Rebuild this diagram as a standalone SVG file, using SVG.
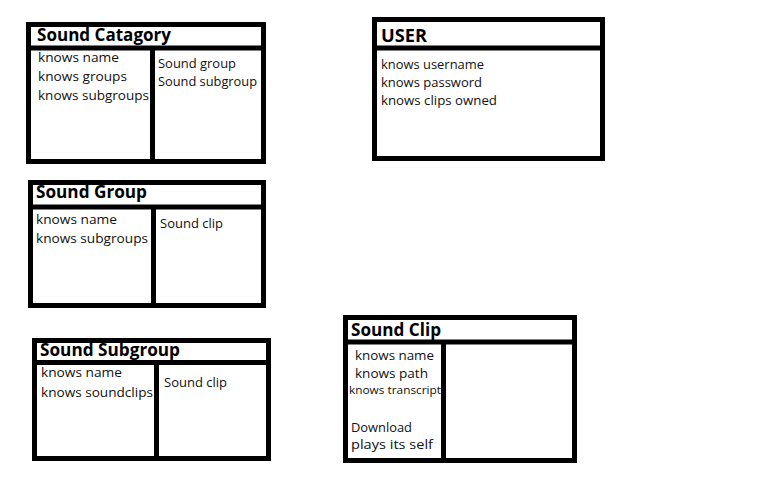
<svg xmlns="http://www.w3.org/2000/svg" width="768" height="480" viewBox="0 0 768 480">
<style>
.bg{fill:#fff}
.box{fill:#fff;stroke:#000;stroke-width:5}
.ln{stroke:#000;stroke-width:5;fill:none}
.t{font-family:"Open Sans","Liberation Sans",sans-serif;font-weight:bold;font-size:17px;fill:#000}
.a{font-family:"Open Sans","Liberation Sans",sans-serif;font-size:13px;fill:#111}
.s{font-size:10.5px}
</style>
<rect class="bg" x="0" y="0" width="768" height="480"/>
<g id="sound-catagory">
<rect class="box" x="28.5" y="24.5" width="235" height="137"/>
<line class="ln" x1="28.5" y1="48" x2="263.5" y2="48"/>
<line class="ln" x1="152.5" y1="48" x2="152.5" y2="161.5"/>
<text class="t" x="37" y="41" textLength="134" lengthAdjust="spacingAndGlyphs">Sound Catagory</text>
<text class="a" x="38" y="62" textLength="81" lengthAdjust="spacingAndGlyphs">knows name</text>
<text class="a" x="38" y="81" textLength="89" lengthAdjust="spacingAndGlyphs">knows groups</text>
<text class="a" x="38" y="100" textLength="111" lengthAdjust="spacingAndGlyphs">knows subgroups</text>
<text class="a" x="158" y="68" textLength="78" lengthAdjust="spacingAndGlyphs">Sound group</text>
<text class="a" x="158" y="86" textLength="99" lengthAdjust="spacingAndGlyphs">Sound subgroup</text>
</g>
<g id="user">
<rect class="box" x="374.5" y="19.5" width="228" height="139"/>
<line class="ln" x1="374.5" y1="48" x2="602.5" y2="48"/>
<text class="t" x="381" y="42" textLength="46" lengthAdjust="spacingAndGlyphs">USER</text>
<text class="a" x="381" y="69" textLength="103" lengthAdjust="spacingAndGlyphs">knows username</text>
<text class="a" x="381" y="87" textLength="101" lengthAdjust="spacingAndGlyphs">knows password</text>
<text class="a" x="381" y="105" textLength="116" lengthAdjust="spacingAndGlyphs">knows clips owned</text>
</g>
<g id="sound-group">
<rect class="box" x="30.5" y="182.5" width="233" height="123"/>
<line class="ln" x1="30.5" y1="207" x2="263.5" y2="207"/>
<line class="ln" x1="153.5" y1="207" x2="153.5" y2="305.5"/>
<text class="t" x="36" y="198" textLength="111" lengthAdjust="spacingAndGlyphs">Sound Group</text>
<text class="a" x="36" y="224" textLength="81" lengthAdjust="spacingAndGlyphs">knows name</text>
<text class="a" x="36" y="243" textLength="112" lengthAdjust="spacingAndGlyphs">knows subgroups</text>
<text class="a" x="160" y="228" textLength="63" lengthAdjust="spacingAndGlyphs">Sound clip</text>
</g>
<g id="sound-subgroup">
<rect class="box" x="34.5" y="340.5" width="234" height="118"/>
<line class="ln" x1="34.5" y1="362.5" x2="268.5" y2="362.5"/>
<line class="ln" x1="156.5" y1="362.5" x2="156.5" y2="458.5"/>
<text class="t" x="40" y="356" textLength="140" lengthAdjust="spacingAndGlyphs">Sound Subgroup</text>
<text class="a" x="41" y="377" textLength="81" lengthAdjust="spacingAndGlyphs">knows name</text>
<text class="a" x="41" y="397" textLength="112" lengthAdjust="spacingAndGlyphs">knows soundclips</text>
<text class="a" x="164" y="387" textLength="63" lengthAdjust="spacingAndGlyphs">Sound clip</text>
</g>
<g id="sound-clip">
<rect class="box" x="345.5" y="317.5" width="229" height="143"/>
<line class="ln" x1="345.5" y1="342" x2="574.5" y2="342"/>
<line class="ln" x1="443.5" y1="342" x2="443.5" y2="460.5"/>
<text class="t" x="351" y="336" textLength="90" lengthAdjust="spacingAndGlyphs">Sound Clip</text>
<text class="a" x="355" y="360" textLength="79" lengthAdjust="spacingAndGlyphs">knows name</text>
<text class="a" x="355" y="378" textLength="73" lengthAdjust="spacingAndGlyphs">knows path</text>
<text class="a s" x="349" y="394" textLength="92" lengthAdjust="spacingAndGlyphs">knows transcript</text>
<text class="a" x="351" y="432" textLength="61" lengthAdjust="spacingAndGlyphs">Download</text>
<text class="a" x="351" y="449" textLength="82" lengthAdjust="spacingAndGlyphs">plays its self</text>
</g>
</svg>
